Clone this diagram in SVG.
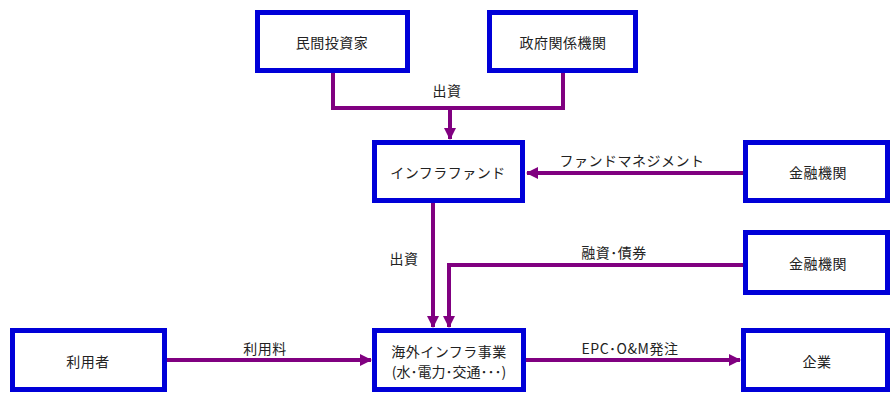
<svg xmlns="http://www.w3.org/2000/svg" width="892" height="398" viewBox="0 0 892 398">
<style>
.box{fill:#fff;stroke:#0000d8;stroke-width:5}
.t{font-family:"Noto Sans CJK JP","Liberation Sans",sans-serif;font-size:14px;fill:#222;text-anchor:middle;dominant-baseline:central;letter-spacing:0.5px}
.c{fill:none;stroke:#800080;stroke-width:4}
</style>
<defs>
<marker id="ah" markerUnits="userSpaceOnUse" markerWidth="12" markerHeight="12" viewBox="0 0 12 12" refX="11" refY="6" orient="auto">
<path d="M0,0 L12,6 L0,12 Z" fill="#800080"/>
</marker>
</defs>
<rect width="892" height="398" fill="#fff"/>
<g id="connectors">
<path class="c" d="M333,73 V108 H563 V73"/>
<path class="c" d="M450,108 V139" marker-end="url(#ah)"/>
<path class="c" d="M743,173 H527" marker-end="url(#ah)"/>
<path class="c" d="M433,203 V327" marker-end="url(#ah)"/>
<path class="c" d="M743,265 H449 V327" marker-end="url(#ah)"/>
<path class="c" d="M167,360 H371" marker-end="url(#ah)"/>
<path class="c" d="M526,360 H740" marker-end="url(#ah)"/>
<text class="t" x="447" y="90">出資</text>
<text class="t" x="632" y="160">ファンドマネジメント</text>
<text class="t" x="404" y="258">出資</text>
<text class="t" x="614" y="252">融資･債券</text>
<text class="t" x="265" y="348">利用料</text>
<text class="t" x="630" y="348">EPC･O&amp;M発注</text>
</g>
<g id="n1"><rect class="box" x="257.5" y="12.5" width="150" height="58"/><text class="t" x="332" y="42">民間投資家</text></g>
<g id="n2"><rect class="box" x="489.5" y="12.5" width="146" height="58"/><text class="t" x="563" y="42">政府関係機関</text></g>
<g id="n3"><rect class="box" x="374.5" y="142.5" width="148" height="58"/><text class="t" x="448" y="172">インフラファンド</text></g>
<g id="n4"><rect class="box" x="745.5" y="142.5" width="142" height="58"/><text class="t" x="818" y="172">金融機関</text></g>
<g id="n5"><rect class="box" x="745.5" y="232.5" width="142" height="60"/><text class="t" x="818" y="263">金融機関</text></g>
<g id="n6"><rect class="box" x="12.5" y="330.5" width="152" height="59"/><text class="t" x="88" y="361">利用者</text></g>
<g id="n7"><rect class="box" x="374.5" y="330.5" width="149" height="59"/><text class="t" x="449" y="351">海外インフラ事業</text><text class="t" x="449" y="371" style="letter-spacing:0">(水･電力･交通･･･)</text></g>
<g id="n8"><rect class="box" x="743.5" y="330.5" width="144" height="59"/><text class="t" x="817" y="361">企業</text></g>
</svg>
